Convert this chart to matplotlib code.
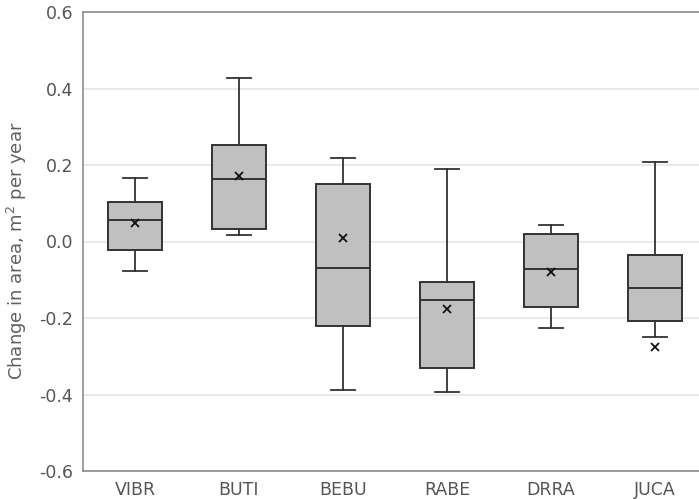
import matplotlib
matplotlib.use("Agg")
import matplotlib.pyplot as plt

species = ["VIBR", "BUTI", "BEBU", "RABE", "DRRA", "JUCA"]

whisker_low = [-0.076, 0.016, -0.388, -0.393, -0.227, -0.249]
q1 = [-0.022, 0.033, -0.222, -0.332, -0.172, -0.208]
median = [0.055, 0.164, -0.068, -0.153, -0.073, -0.122]
q3 = [0.102, 0.252, 0.150, -0.105, 0.019, -0.036]
whisker_high = [0.167, 0.428, 0.217, 0.189, 0.044, 0.207]
mean = [0.048, 0.172, 0.010, -0.176, -0.081, -0.277]

yticks = [-0.6, -0.4, -0.2, 0.0, 0.2, 0.4, 0.6]

stats = []
for i in range(len(species)):
    stats.append({
        "label": species[i],
        "whislo": whisker_low[i],
        "q1": q1[i],
        "med": median[i],
        "q3": q3[i],
        "whishi": whisker_high[i],
        "mean": mean[i],
        "fliers": [],
    })

fig = plt.figure(figsize=(6.99, 4.99), dpi=100)
# plot area runs past the right edge of the figure
ax = fig.add_axes([83 / 699, 1 - 471 / 499, 624 / 699, 459 / 499])

edge = "#333333"
ax.bxp(stats, positions=range(len(species)), widths=0.51, capwidths=0.24,
       showmeans=True, patch_artist=True,
       boxprops=dict(facecolor="#c0c0c0", edgecolor=edge, linewidth=1.4),
       medianprops=dict(color=edge, linewidth=1.4),
       whiskerprops=dict(color=edge, linewidth=1.3),
       capprops=dict(color=edge, linewidth=1.3),
       meanprops=dict(marker="x", markeredgecolor="#111111", markersize=5.5,
                      markeredgewidth=1.3))

ax.set_xlim(-0.5, len(species) - 0.5)
ax.set_ylim(-0.6, 0.6)
ax.set_yticks(yticks)
ax.set_yticklabels(["%.1f" % t for t in yticks])
ax.yaxis.grid(True, color="#e6e6e6", linewidth=1.2)
ax.set_axisbelow(True)
ax.tick_params(length=0, labelsize=12.5, labelcolor="#555555", pad=7)

for s in ["left", "bottom", "top"]:
    ax.spines[s].set_color("#8c8c8c")
    ax.spines[s].set_linewidth(1.2)
ax.spines["right"].set_visible(False)

ax.set_ylabel("Change in area, m$^2$ per year", fontsize=13, color="#606060")
ax.yaxis.set_label_coords(-0.087, 0.48)

fig.savefig("out.png", dpi=100)
